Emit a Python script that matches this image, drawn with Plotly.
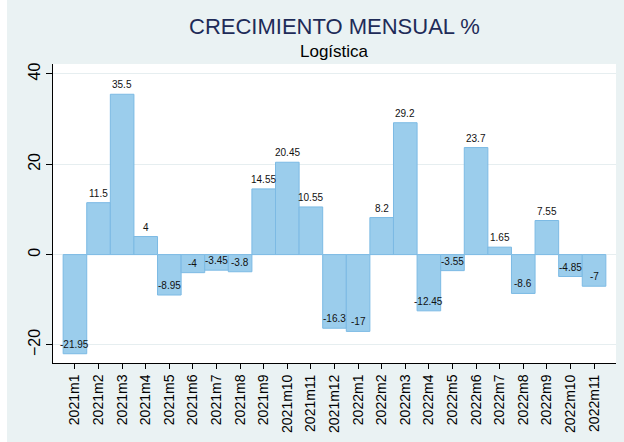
import plotly.graph_objects as go

categories = ["2021m1", "2021m2", "2021m3", "2021m4", "2021m5", "2021m6", "2021m7", "2021m8",
              "2021m9", "2021m10", "2021m11", "2021m12", "2022m1", "2022m2", "2022m3", "2022m4",
              "2022m5", "2022m6", "2022m7", "2022m8", "2022m9", "2022m10", "2022m11"]
values = [-21.95, 11.5, 35.5, 4, -8.95, -4, -3.45, -3.8, 14.55, 20.45, 10.55, -16.3,
          -17, 8.2, 29.2, -12.45, -3.55, 23.7, 1.65, -8.6, 7.55, -4.85, -7]
labels = [f"{v:g}" for v in values]
y_ticks = [-20, 0, 20, 40]

FONT = "Liberation Sans, Arial, sans-serif"
BG = "#EAF2F3"

fig = go.Figure()
fig.add_trace(go.Bar(
    x=list(range(len(categories))), y=values, width=1,
    marker=dict(color="#9BCDEC", line=dict(color="#7CBAE4", width=1)),
    hoverinfo="x+y",
))
for i, (v, t) in enumerate(zip(values, labels)):
    fig.add_annotation(x=i, y=v, text=t, showarrow=False, yanchor="bottom", yshift=2,
                       font=dict(family=FONT, size=10, color="#111111"))

fig.add_annotation(xref="paper", yref="paper", x=0.5, y=1, yshift=64 - 26,
                   text="CRECIMIENTO MENSUAL %", showarrow=False, xanchor="center", yanchor="middle",
                   font=dict(family=FONT, size=22, color="#1E2B58"))
fig.add_annotation(xref="paper", yref="paper", x=0.5, y=1, yshift=64 - 51,
                   text="Logística", showarrow=False, xanchor="center", yanchor="middle",
                   font=dict(family=FONT, size=17, color="#000000"))

fig.update_layout(
    width=617, height=442,
    margin=dict(l=46, r=8, t=64, b=79),
    paper_bgcolor=BG, plot_bgcolor="white",
    showlegend=False,
    font=dict(family=FONT),
)
fig.update_xaxes(
    range=[-0.93, 22.93], tickmode="array", tickvals=list(range(len(categories))), ticktext=categories,
    tickangle=-90, ticks="outside", ticklen=5, tickcolor="#000000", tickwidth=1,
    showline=True, linecolor="#000000", linewidth=1, showgrid=False, zeroline=False,
    tickfont=dict(family=FONT, size=14, color="#000000"), automargin=False,
)
fig.update_yaxes(
    range=[-24.0, 42.2], tickmode="array", tickvals=y_ticks,
    tickangle=-90, ticks="outside", ticklen=6, tickcolor="#000000", tickwidth=1,
    showline=True, linecolor="#000000", linewidth=1, showgrid=True, gridcolor="#E6EEF0", gridwidth=1,
    zeroline=False, tickfont=dict(family=FONT, size=16, color="#000000"), automargin=False,
)
fig.write_html("out.html",
               post_script="document.body.style.margin='0px 0px 0px 7px';"
                           "document.body.style.background='#FFFFFF';")
